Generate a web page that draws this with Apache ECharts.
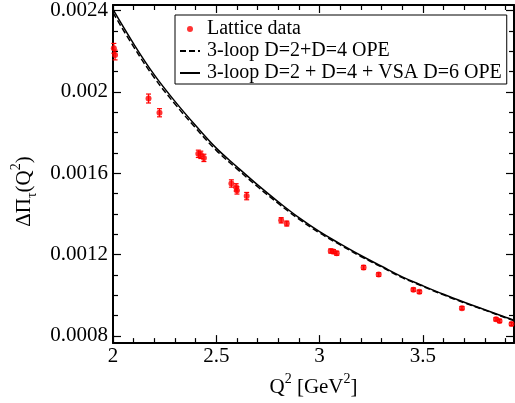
<!DOCTYPE html>
<html lang="en">
<head>
    <meta charset="UTF-8">
    <title>Delta Pi tau vs Q2</title>
    <script src="https://cdn.jsdelivr.net/npm/echarts@6.0.0/dist/echarts.min.js"></script>
</head>
<body style="margin: 0">
<div id="chart" style="width: 515px;height: 403px"></div>
</body>

<script>
    // lattice points: Q^2, value, error
    let latticeQ2 = [2.004, 2.010, 2.172, 2.225, 2.413, 2.425, 2.440, 2.573, 2.596, 2.600, 2.647,
        2.814, 2.841, 3.054, 3.067, 3.083, 3.213, 3.286, 3.454, 3.483, 3.689, 3.854, 3.871, 3.929];
    let latticeVal = [0.002214, 0.002181, 0.001967, 0.001897, 0.001695, 0.001690, 0.001675, 0.001549,
        0.001530, 0.001515, 0.001487, 0.001368, 0.001352, 0.001217, 0.001214, 0.001206, 0.001136,
        0.001101, 0.001027, 0.001016, 0.000936, 0.000881, 0.000873, 0.000858];
    let latticeErr = [0.000024, 0.000024, 0.000022, 0.000020, 0.000018, 0.000018, 0.000018, 0.000018,
        0.000018, 0.000018, 0.000018, 0.000013, 0.000012, 0.000010, 0.000010, 0.000010, 0.000010,
        0.000009, 0.000008, 0.000008, 0.000008, 0.000008, 0.000008, 0.000008];

    // OPE curves
    let curveQ2 = [2.0, 2.1, 2.2, 2.3, 2.4, 2.5, 2.6, 2.7, 2.8, 2.9, 3.0, 3.1, 3.2, 3.3, 3.4, 3.5,
        3.6, 3.7, 3.8, 3.9, 3.941];
    let opeD6 = [0.002405, 0.002236, 0.002083, 0.001953, 0.001834, 0.001723, 0.001631, 0.001542,
        0.001459, 0.001381, 0.001312, 0.001252, 0.001195, 0.001142, 0.001090, 0.001046, 0.001004,
        0.000965, 0.000928, 0.000891, 0.000877];
    let opeD4 = [0.002389, 0.002221, 0.002069, 0.001940, 0.001822, 0.001712, 0.001621, 0.001533,
        0.001451, 0.001374, 0.001306, 0.001247, 0.001190, 0.001138, 0.001086, 0.001043, 0.001001,
        0.000962, 0.000926, 0.000889, 0.000875];

    let xMajor = [2, 2.5, 3, 3.5];
    let xMinor = [2.1, 2.2, 2.3, 2.4, 2.6, 2.7, 2.8, 2.9, 3.1, 3.2, 3.3, 3.4, 3.6, 3.7, 3.8, 3.9];
    let yMajor = [0.0008, 0.0012, 0.0016, 0.002, 0.0024];
    let yMinor = [0.0009, 0.001, 0.0011, 0.0013, 0.0014, 0.0015, 0.0017, 0.0018, 0.0019,
        0.0021, 0.0022, 0.0023];

    const serif = 'Liberation Serif';
    const X_MIN = 2, X_MAX = 3.941, Y_MIN = 0.000764, Y_MAX = 0.002427;

    let chart = echarts.init(document.getElementById('chart'));

    function xAxisOf(pos, ticks, len, isMain) {
        return {
            type: 'value', position: pos, min: X_MIN, max: X_MAX,
            axisLine: {show: isMain, onZero: false, lineStyle: {color: '#000', width: 2}},
            axisTick: {inside: true, length: len, customValues: ticks, lineStyle: {color: '#000', width: 1.2}},
            axisLabel: pos === 'bottom' && isMain ? {
                customValues: xMajor, margin: 3, color: '#000',
                fontFamily: serif, fontSize: 21
            } : {show: false},
            splitLine: {show: false}
        };
    }

    function yAxisOf(pos, ticks, len, isMain) {
        return {
            type: 'value', position: pos, min: Y_MIN, max: Y_MAX,
            axisLine: {show: isMain, onZero: false, lineStyle: {color: '#000', width: 2}},
            axisTick: {inside: true, length: len, customValues: ticks, lineStyle: {color: '#000', width: 1.2}},
            axisLabel: pos === 'left' && isMain ? {
                customValues: yMajor, margin: 5, color: '#000',
                fontFamily: serif, fontSize: 21
            } : {show: false},
            splitLine: {show: false}
        };
    }

    let xAxes = [
        xAxisOf('bottom', xMajor, 8, true),
        xAxisOf('bottom', xMinor, 5, false),
        xAxisOf('top', xMajor, 8, true),
        xAxisOf('top', xMinor, 5, false)
    ];
    xAxes[0].name = '{t|Q}{sup|2}{t| [GeV}{sup|2}{t|]}';
    xAxes[0].nameLocation = 'middle';
    xAxes[0].nameGap = 27;
    xAxes[0].nameTextStyle = {
        rich: {
            t: {fontFamily: serif, fontSize: 21, color: '#000', lineHeight: 26, verticalAlign: 'bottom'},
            sup: {fontFamily: serif, fontSize: 14, color: '#000', lineHeight: 26, verticalAlign: 'top'}
        }
    };

    let yAxes = [
        yAxisOf('left', yMajor, 8, true),
        yAxisOf('left', yMinor, 5, false),
        yAxisOf('right', yMajor, 8, true),
        yAxisOf('right', yMinor, 5, false)
    ];
    yAxes[0].name = '{t|ΔΠ}{sub|τ}{t|(Q}{sup|2}{t|)}';
    yAxes[0].nameLocation = 'middle';
    yAxes[0].nameGap = 62;
    yAxes[0].nameTextStyle = {
        padding: [0, 35, 0, 0],
        rich: {
            t: {fontFamily: serif, fontSize: 21, color: '#000', lineHeight: 30, verticalAlign: 'middle'},
            sub: {fontFamily: serif, fontSize: 14, color: '#000', lineHeight: 30, verticalAlign: 'bottom'},
            sup: {fontFamily: serif, fontSize: 14, color: '#000', lineHeight: 30, verticalAlign: 'top'}
        }
    };

    let points = latticeQ2.map((q, i) => [q, latticeVal[i], latticeErr[i]]);
    let noMarker = {color: 'rgba(0,0,0,0)', borderWidth: 0, opacity: 0};

    let option = {
        animation: false,
        grid: {left: 113, right: 1, top: 3, bottom: 59},
        xAxis: xAxes,
        yAxis: yAxes,
        legend: {
            data: [
                {name: 'Lattice data'},
                {name: '3-loop D=2+D=4 OPE', itemStyle: noMarker},
                {name: '3-loop D=2 + D=4 + VSA D=6 OPE', itemStyle: noMarker}
            ],
            orient: 'vertical',
            left: 175, top: 15,
            padding: [4, 5, 1, 4],
            itemWidth: 20, itemHeight: 6, itemGap: 2,
            backgroundColor: '#fff',
            borderColor: '#000', borderWidth: 1,
            textStyle: {fontFamily: serif, fontSize: 20, color: '#000', lineHeight: 18, padding: [0, 0, 0, 2]},
            selectedMode: false
        },
        series: [
            {
                name: '3-loop D=2+D=4 OPE',
                type: 'line',
                symbol: 'none',
                smooth: 0.4,
                color: '#000',
                lineStyle: {color: '#000', width: 1.5, type: [6, 3]},
                data: curveQ2.map((q, i) => [q, opeD4[i]])
            },
            {
                name: '3-loop D=2 + D=4 + VSA D=6 OPE',
                type: 'line',
                symbol: 'none',
                smooth: 0.4,
                color: '#000',
                lineStyle: {color: '#000', width: 1.5},
                data: curveQ2.map((q, i) => [q, opeD6[i]])
            },
            {
                name: 'errors',
                type: 'custom',
                clip: false,
                renderItem: function (params, api) {
                    let x = api.value(0), y = api.value(1), e = api.value(2);
                    let top = api.coord([x, y + e]);
                    let bot = api.coord([x, y - e]);
                    let st = {stroke: '#ff0000', lineWidth: 1.2};
                    return {
                        type: 'group',
                        children: [
                            {type: 'line', shape: {x1: top[0], y1: top[1], x2: bot[0], y2: bot[1]}, style: st},
                            {type: 'line', shape: {x1: top[0] - 2.5, y1: top[1], x2: top[0] + 2.5, y2: top[1]}, style: st},
                            {type: 'line', shape: {x1: bot[0] - 2.5, y1: bot[1], x2: bot[0] + 2.5, y2: bot[1]}, style: st}
                        ]
                    };
                },
                data: points,
                z: 3
            },
            {
                name: 'Lattice data',
                type: 'scatter',
                symbol: 'circle',
                symbolSize: 6,
                clip: false,
                itemStyle: {color: '#ff0000'},
                data: points,
                z: 4
            }
        ]
    };

    chart.setOption(option);
</script>

</html>
